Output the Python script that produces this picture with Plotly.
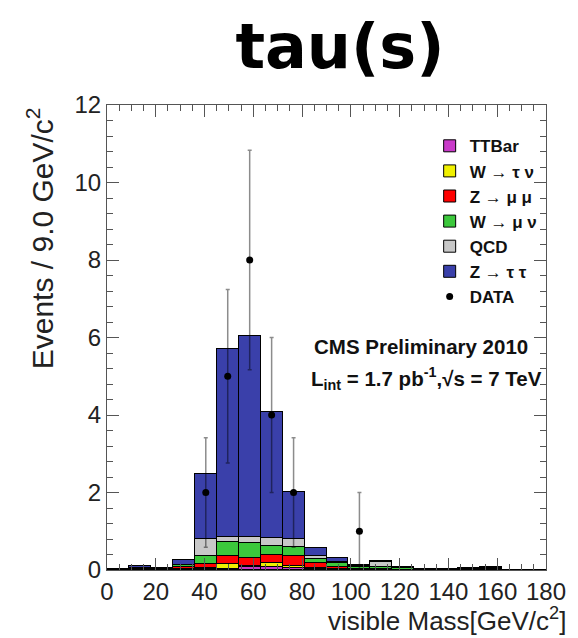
import plotly.graph_objects as go

# ---- data -------------------------------------------------------------
bin_centers = [4.5, 13.5, 22.5, 31.5, 40.5, 49.5, 58.5, 67.5, 76.5, 85.5,
               94.5, 103.5, 112.5, 121.5, 130.5, 139.5, 148.5, 157.5, 166.5, 175.5]
bin_width = 9.0

ttbar   = [0, 0, 0, 0.01, 0.02, 0.03, 0.08, 0.07, 0.05, 0.02, 0.01, 0.01, 0.01, 0, 0, 0, 0, 0.01, 0, 0]
wtaunu  = [0, 0, 0, 0.02, 0.03, 0.12, 0.03, 0.12, 0.05, 0.02, 0.01, 0, 0, 0, 0, 0, 0, 0, 0, 0]
zmumu   = [0, 0, 0.01, 0.04, 0.10, 0.22, 0.20, 0.20, 0.25, 0.15, 0.05, 0.02, 0.02, 0.01, 0, 0, 0, 0, 0, 0]
wmunu   = [0, 0.02, 0.01, 0.05, 0.20, 0.35, 0.38, 0.22, 0.25, 0.09, 0.10, 0.06, 0.05, 0.05, 0.02, 0.01, 0.02, 0.02, 0.01, 0]
qcd     = [0.02, 0.03, 0, 0.02, 0.45, 0.12, 0.16, 0.21, 0.20, 0.09, 0.03, 0.02, 0.12, 0.01, 0.01, 0.02, 0.02, 0.03, 0, 0]
ztautau = [0, 0.05, 0.03, 0.12, 1.67, 4.87, 5.19, 3.26, 1.22, 0.20, 0.10, 0.01, 0.02, 0.01, 0, 0, 0, 0.01, 0, 0]

data_x   = [40.5, 49.5, 58.5, 67.5, 76.5, 103.5]
data_y   = [2, 5, 8, 4, 2, 1]
data_err = [1.41, 2.24, 2.83, 2.0, 1.41, 1.0]

x_ticks = [0, 20, 40, 60, 80, 100, 120, 140, 160, 180]
y_ticks = [0, 2, 4, 6, 8, 10, 12]

# ---- figure -----------------------------------------------------------
fig = go.Figure()

stack = [
    ("TTBar", ttbar, "#c93ac9"),
    ("W \u2192 \u03c4 \u03bd", wtaunu, "#f0f000"),
    ("Z \u2192 \u03bc \u03bc", zmumu, "#ff0000"),
    ("W \u2192 \u03bc \u03bd", wmunu, "#3cc83c"),
    ("QCD", qcd, "#c8c8c8"),
    ("Z \u2192 \u03c4 \u03c4", ztautau, "#3a40aa"),
]
for name, vals, col in stack:
    fig.add_trace(go.Bar(
        x=bin_centers, y=vals, width=bin_width, name=name,
        marker=dict(color=col, line=dict(color="black", width=1)),
    ))

fig.add_trace(go.Scatter(
    x=data_x, y=data_y, mode="markers", name="DATA",
    marker=dict(color="black", size=7),
    error_y=dict(type="data", array=data_err, color="rgba(0,0,0,0.45)",
                 thickness=1.5, width=2),
))

FONT = "Liberation Sans, Arial, sans-serif"

fig.update_layout(
    width=578, height=638,
    margin=dict(l=107, r=25, t=105, b=68),
    barmode="stack", bargap=0,
    plot_bgcolor="white", paper_bgcolor="white",
    font=dict(family=FONT, color="#111"),
    title=dict(text="<b>tau(s)</b>", x=340 / 578, xanchor="center",
               y=1 - 46 / 638, yanchor="middle", yref="container",
               font=dict(family="DejaVu Sans, sans-serif", size=62, color="black")),
    legend=dict(x=0.735, y=0.95, xanchor="left", yanchor="top",
                bgcolor="rgba(255,255,255,0)", traceorder="normal",
                font=dict(family=FONT, size=17, color="#111", weight="bold"),
                itemwidth=30),
    showlegend=True,
)

fig.update_xaxes(
    range=[0, 180], tickvals=x_ticks, ticks="inside", ticklen=12,
    tickcolor="#555", showline=True, linecolor="#555", linewidth=1,
    mirror="allticks", showgrid=False, zeroline=False,
    tickfont=dict(family=FONT, size=24, color="#222"),
    minor=dict(dtick=5, ticks="inside", ticklen=6, tickcolor="#555", showgrid=False),
)
fig.update_yaxes(
    range=[0, 12], tickvals=y_ticks, ticks="inside", ticklen=12,
    tickcolor="#555", showline=True, linecolor="#555", linewidth=1,
    mirror="allticks", showgrid=False, zeroline=False,
    tickfont=dict(family=FONT, size=24, color="#222"),
    minor=dict(dtick=0.4, ticks="inside", ticklen=6, tickcolor="#555", showgrid=False),
)

fig.add_annotation(
    text="Events / 9.0 GeV/c<sup>2</sup>", textangle=-90,
    xref="paper", yref="paper", x=-0.152, y=1.0, xanchor="center", yanchor="top",
    showarrow=False, font=dict(family=FONT, size=30, color="#222"),
)
fig.add_annotation(
    text="visible Mass[GeV/c<sup>2</sup>]",
    xref="paper", yref="paper", x=1.049, y=-0.1075, xanchor="right", yanchor="middle",
    showarrow=False, font=dict(family=FONT, size=26, color="#222"),
)
fig.add_annotation(
    text="<b>CMS Preliminary 2010</b>",
    xref="paper", yref="paper", x=0.466, y=0.48, xanchor="left", yanchor="middle",
    showarrow=False, font=dict(family=FONT, size=20.5, color="#111"),
)
fig.add_annotation(
    text="<b>L<sub>int</sub> = 1.7 pb<sup>-1</sup>,\u221as = 7 TeV</b>",
    xref="paper", yref="paper", x=0.46, y=0.411, xanchor="left", yanchor="middle",
    showarrow=False, font=dict(family=FONT, size=20.5, color="#111"),
)

fig.write_html("out.html")
